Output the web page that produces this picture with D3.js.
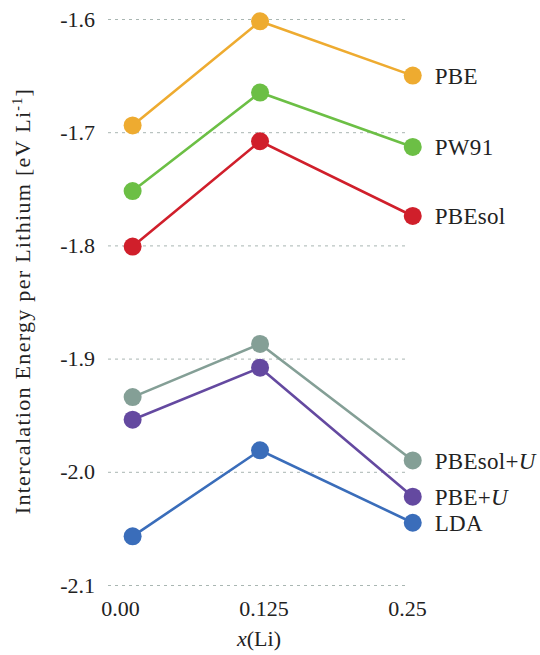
<!DOCTYPE html>
<html>
<head>
<meta charset="utf-8">
<script src="https://cdn.jsdelivr.net/npm/d3@7"></script>
<style>
  body { margin: 0; background: #fff; }
</style>
</head>
<body>
<svg id="chart" width="540" height="655"></svg>
<script>
// x positions of the three Li concentrations and tick labels
const xValues = [0.011, 0.122, 0.255];
const xTickValues = [0, 0.125, 0.25];
const xTickLabels = ["0.00", "0.125", "0.25"];
const yTickValues = [-1.6, -1.7, -1.8, -1.9, -2.0, -2.1];

// intercalation energies per functional [eV/Li]
const seriesNames = ["PBE", "PW91", "PBEsol", "PBEsol+U", "PBE+U", "LDA"];
const pbe      = [-1.694, -1.602, -1.650];
const pw91     = [-1.752, -1.665, -1.713];
const pbesol   = [-1.801, -1.708, -1.774];
const pbesolU  = [-1.934, -1.887, -1.990];
const pbeU     = [-1.954, -1.908, -2.022];
const lda      = [-2.057, -1.981, -2.045];
const seriesColors = ["#eeab30", "#6cbf45", "#d01f2b", "#849f96", "#6449a0", "#3a6dba"];

const FONT = "Liberation Serif";

function drawChart() {
    const svg = d3.select("#chart");
    const gridLeft = 108, gridRight = 408;

    const x = d3.scaleLinear().domain([0, 0.25]).range([120, 407]);
    const y = d3.scaleLinear().domain([-2.1, -1.6]).range([585, 19]);

    // Y axis with dashed gridlines
    const yAxis = svg.append("g")
        .attr("transform", `translate(${gridLeft},0)`)
        .call(d3.axisLeft(y)
            .tickValues(yTickValues)
            .tickSize(-(gridRight - gridLeft))
            .tickPadding(13)
            .tickFormat(d => d3.format(".1f")(d).replace("−", "-")));
    yAxis.attr("font-family", FONT);
    yAxis.select(".domain").remove();
    yAxis.selectAll("line")
        .attr("stroke", "#a9b6b2")
        .attr("stroke-dasharray", "3,4")
        .attr("stroke-width", 1);
    yAxis.selectAll("text")
        .attr("font-size", 22)
        .attr("fill", "#222")
        .attr("font-family", FONT);

    // X axis labels
    const xAxis = svg.append("g")
        .attr("transform", "translate(0,600)")
        .call(d3.axisBottom(x)
            .tickValues(xTickValues)
            .tickSize(0)
            .tickPadding(0)
            .tickFormat((d, i) => xTickLabels[i]));
    xAxis.attr("font-family", FONT);
    xAxis.select(".domain").remove();
    xAxis.selectAll("text")
        .attr("font-size", 22)
        .attr("fill", "#222")
        .attr("font-family", FONT);

    // axis titles
    const xt = svg.append("text")
        .attr("x", 259)
        .attr("y", 646)
        .attr("text-anchor", "middle")
        .attr("font-family", FONT)
        .attr("font-size", 22)
        .attr("fill", "#222");
    xt.append("tspan").attr("font-style", "italic").text("x");
    xt.append("tspan").text("(Li)");

    const yt = svg.append("text")
        .attr("transform", "translate(30,301) rotate(-90)")
        .attr("text-anchor", "middle")
        .attr("font-family", FONT)
        .attr("font-size", 22)
        .attr("letter-spacing", 1.3)
        .attr("fill", "#222");
    yt.append("tspan").text("Intercalation Energy per Lithium [eV Li");
    yt.append("tspan").attr("dy", -8).attr("font-size", 14).text("-1");
    yt.append("tspan").attr("dy", 8).text("]");

    // series
    const allSeries = [pbe, pw91, pbesol, pbesolU, pbeU, lda];
    const seriesData = seriesNames.map((name, i) => ({
        name: name,
        color: seriesColors[i],
        values: allSeries[i].map((v, j) => ({ x: xValues[j], y: v }))
    }));

    const line = d3.line().x(d => x(d.x)).y(d => y(d.y));

    const g = svg.append("g");
    g.selectAll(".line")
        .data(seriesData)
        .enter().append("path")
        .attr("fill", "none")
        .attr("stroke", d => d.color)
        .attr("stroke-width", 2.6)
        .attr("d", d => line(d.values));

    seriesData.forEach(s => {
        g.selectAll(null)
            .data(s.values)
            .enter().append("circle")
            .attr("cx", d => x(d.x))
            .attr("cy", d => y(d.y))
            .attr("r", 9)
            .attr("fill", s.color);
    });

    // labels at the right end of each line
    const labels = g.selectAll(".label")
        .data(seriesData)
        .enter().append("text")
        .attr("x", d => x(d.values[2].x) + 22)
        .attr("y", d => y(d.values[2].y))
        .attr("dy", "0.35em")
        .attr("font-family", FONT)
        .attr("font-size", 23)
        .attr("letter-spacing", 0.3)
        .attr("fill", "#222");
    labels.each(function(d) {
        const t = d3.select(this);
        if (d.name.endsWith("+U")) {
            t.append("tspan").text(d.name.slice(0, -1));
            t.append("tspan").attr("font-style", "italic").text("U");
        } else {
            t.text(d.name);
        }
    });
}

window.onload = drawChart;
</script>
</body>
</html>
